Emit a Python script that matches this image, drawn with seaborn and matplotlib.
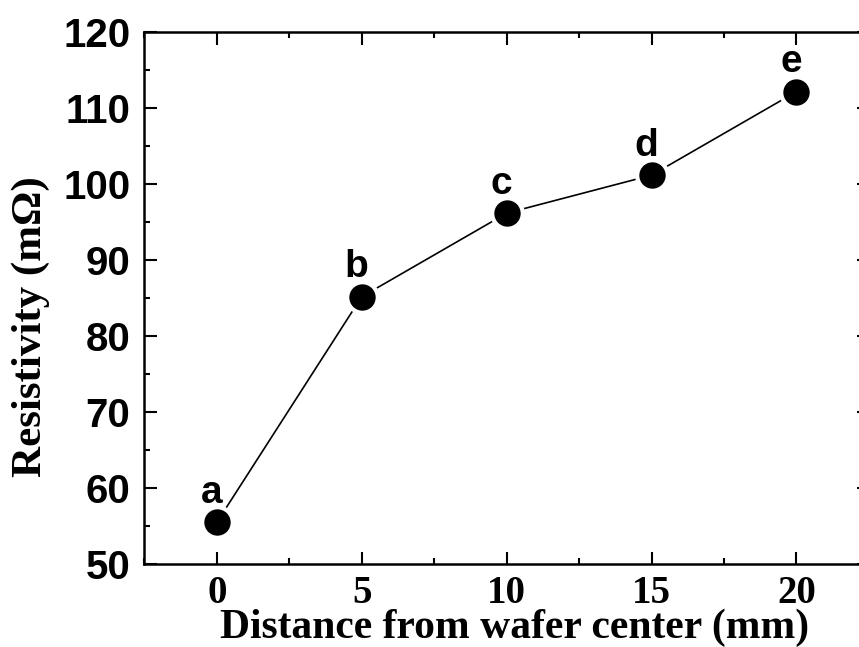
import matplotlib
matplotlib.use("Agg")
import matplotlib.pyplot as plt
import seaborn as sns
import pandas as pd
from matplotlib.ticker import MultipleLocator

distance = [0, 5, 10, 15, 20]
resistivity = [55.5, 85.2, 96.2, 101.2, 112.2]
point_labels = ["a", "b", "c", "d", "e"]
x_ticks = [0, 5, 10, 15, 20]
y_ticks = [50, 60, 70, 80, 90, 100, 110, 120]

sns.set_theme(style="white")
plt.rcParams['font.family'] = ['Liberation Sans', 'DejaVu Sans']
plt.rcParams['text.color'] = 'black'
plt.rcParams['axes.labelcolor'] = 'black'
plt.rcParams['xtick.color'] = 'black'
plt.rcParams['ytick.color'] = 'black'

df = pd.DataFrame({"distance": distance, "resistivity": resistivity})

fig = plt.figure(figsize=(8.59, 6.47), dpi=100)
ax = fig.add_axes([0.168, 0.128, 1.0116 - 0.168, 0.95 - 0.128])

sns.lineplot(data=df, x="distance", y="resistivity", ax=ax, color="black",
             linewidth=1.2, marker="o", markersize=22, markerfacecolor="black",
             markeredgecolor="white", markeredgewidth=3)

for xv, yv, lab in zip(distance, resistivity, point_labels):
    ax.annotate(lab, (xv, yv), xytext=(-4, 14), textcoords="offset points",
                ha="center", va="baseline", fontsize=28, fontweight="bold",
                family=["Liberation Sans", "DejaVu Sans"], color="black")

ax.set_xlim(-2.5, 22.5)
ax.set_ylim(50, 120)
ax.set_xticks(x_ticks)
ax.set_yticks(y_ticks)
ax.xaxis.set_minor_locator(MultipleLocator(2.5))
ax.yaxis.set_minor_locator(MultipleLocator(5))

ax.tick_params(which="both", direction="in", top=True, right=True,
               bottom=True, left=True, width=1.5, color="black")
ax.tick_params(which="major", length=9)
ax.tick_params(axis="y", which="major", pad=10)
ax.tick_params(axis="x", which="major", pad=8)
ax.tick_params(which="minor", length=4.5)

for lbl in ax.get_xticklabels():
    lbl.set_fontfamily(["Liberation Serif", "DejaVu Serif"])
    lbl.set_fontweight("bold")
    lbl.set_fontsize(28)
for lbl in ax.get_yticklabels():
    lbl.set_fontfamily(["Liberation Sans", "DejaVu Sans"])
    lbl.set_fontweight("bold")
    lbl.set_fontsize(29)

ax.set_xlabel("Distance from wafer center (mm)", fontsize=30, fontweight="bold",
              family=["Liberation Serif", "DejaVu Serif"])
ax.xaxis.label.set_va("baseline")
ax.xaxis.set_label_coords(0.511, -0.1392)
ax.set_ylabel("Resistivity (mΩ)", fontsize=31, fontweight="bold",
              family=["Liberation Serif", "DejaVu Serif"])
ax.yaxis.set_label_coords(-0.130, 0.447)

for sp in ax.spines.values():
    sp.set_color("black")
    sp.set_linewidth(1.8)
    sp.set_visible(True)

fig.savefig("out.png", dpi=100)
